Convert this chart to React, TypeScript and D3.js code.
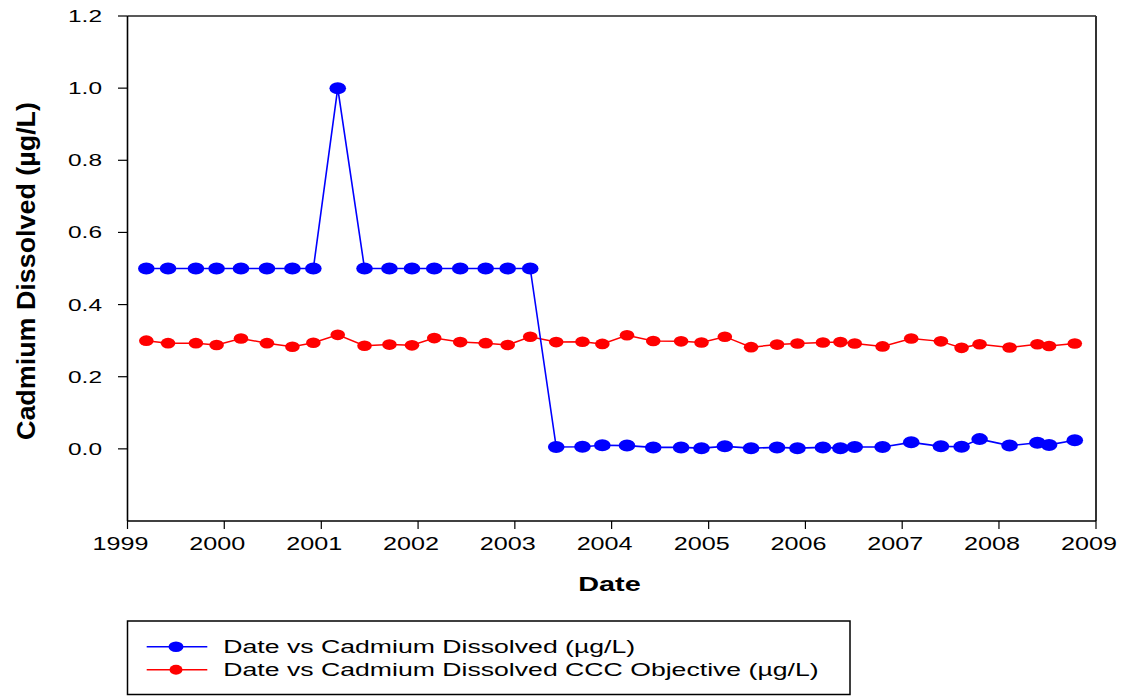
import React from "react";
import * as d3 from "d3";

const sampleDates = [
  "1999-03-13", "1999-06-03", "1999-09-16", "1999-12-03",
  "2000-03-04", "2000-06-10", "2000-09-14", "2000-12-02",
  "2001-03-04", "2001-06-13", "2001-09-15", "2001-12-09",
  "2002-03-03", "2002-06-09", "2002-09-13", "2002-12-05",
  "2003-02-28", "2003-06-06", "2003-09-13", "2003-11-27",
  "2004-02-28", "2004-06-06", "2004-09-19", "2004-12-05",
  "2005-03-03", "2005-06-10", "2005-09-16", "2005-12-02",
  "2006-03-08", "2006-05-13", "2006-07-06", "2006-10-19",
  "2007-02-04", "2007-05-27", "2007-08-13", "2007-10-20",
  "2008-02-10", "2008-05-25", "2008-07-08", "2008-10-13",
];

const cadmiumDissolved = [
  0.5, 0.5, 0.5, 0.5, 0.5, 0.5, 0.5, 0.5,
  1.0,
  0.5, 0.5, 0.5, 0.5, 0.5, 0.5, 0.5, 0.5,
  0.005, 0.006, 0.010, 0.009, 0.004, 0.004, 0.002, 0.007,
  0.002, 0.004, 0.002, 0.004, 0.002, 0.005, 0.005, 0.018,
  0.007, 0.006, 0.027, 0.009, 0.017, 0.011, 0.024,
];

const cccObjective = [
  0.300, 0.293, 0.293, 0.288, 0.306, 0.293, 0.283, 0.294,
  0.316, 0.286, 0.289, 0.287, 0.307, 0.296, 0.293, 0.288,
  0.311, 0.296, 0.297, 0.291, 0.315, 0.299, 0.298, 0.295,
  0.311, 0.282, 0.289, 0.292, 0.295, 0.296, 0.292, 0.284,
  0.306, 0.298, 0.280, 0.290, 0.281, 0.290, 0.285, 0.292,
];

const yTickValues = [0.0, 0.2, 0.4, 0.6, 0.8, 1.0, 1.2];
const xTickYears = [1999, 2000, 2001, 2002, 2003, 2004, 2005, 2006, 2007, 2008, 2009];

const legendLabels = [
  "Date vs Cadmium Dissolved (\u00b5g/L)",
  "Date vs Cadmium Dissolved CCC Objective (\u00b5g/L)",
];

const W = 1125;
const H = 696;
const M = { left: 127.5, right: 1096, top: 16, bottom: 521 };
const FONT = "'Liberation Sans', Arial, Helvetica, sans-serif";
const SX = 1.44;

const parse = d3.timeParse("%Y-%m-%d");

export default function App() {
  const dates = sampleDates.map((s) => parse(s) as Date);
  const x = d3
    .scaleTime()
    .domain([new Date(1999, 0, 1), new Date(2009, 0, 1)])
    .range([M.left, M.right]);
  const y = d3.scaleLinear().domain([-0.2, 1.2]).range([M.bottom, M.top]);

  const blue = dates.map((d, i) => ({ d, v: cadmiumDissolved[i] }));
  const red = dates.map((d, i) => ({ d, v: cccObjective[i] }));
  const line = d3
    .line<{ d: Date; v: number }>()
    .x((p) => x(p.d))
    .y((p) => y(p.v));

  const sText = (
    tx: number,
    ty: number,
    content: string,
    opts: { size: number; anchor?: string; bold?: boolean; sx?: number; key?: string }
  ) => (
    <text
      key={opts.key}
      transform={`translate(${tx},${ty}) scale(${opts.sx ?? SX},1)`}
      textAnchor={opts.anchor ?? "start"}
      fontSize={opts.size}
      fontWeight={opts.bold ? "bold" : "normal"}
      fontFamily={FONT}
      fill="#000"
    >
      {content}
    </text>
  );

  return (
    <div style={{ position: "absolute", left: 0, top: 0 }}>
      <svg width={W} height={H} style={{ display: "block", background: "#fff" }}>
        {/* frame */}
        <line x1={M.left} x2={M.right} y1={M.top} y2={M.top} stroke="#222" strokeWidth={1.5} />
        <line x1={M.right} x2={M.right} y1={M.top} y2={M.bottom} stroke="#333" strokeWidth={2} />
        <line x1={M.left} x2={M.left} y1={M.top} y2={M.bottom} stroke="#000" strokeWidth={1.6} />
        <line x1={M.left} x2={M.right} y1={M.bottom} y2={M.bottom} stroke="#000" strokeWidth={1.6} />

        {/* y ticks */}
        {yTickValues.map((v) => (
          <g key={`y${v}`}>
            <line x1={M.left - 9.5} x2={M.left} y1={y(v)} y2={y(v)} stroke="#000" strokeWidth={1.2} />
            {sText(102, y(v) + 6, v.toFixed(1), { size: 17, anchor: "end" })}
          </g>
        ))}

        {/* x ticks */}
        {xTickYears.map((yr) => {
          const px = x(new Date(yr, 0, 1));
          return (
            <g key={`x${yr}`}>
              <line x1={px} x2={px} y1={M.bottom} y2={M.bottom + 8} stroke="#000" strokeWidth={1.2} />
              {sText(px - 7, 549.5, String(yr), { size: 18.5, anchor: "middle", sx: 1.36 })}
            </g>
          );
        })}

        {/* axis titles */}
        {sText(609.5, 590.5, "Date", { size: 19.5, anchor: "middle", bold: true, sx: 1.48 })}
        <text
          transform={`translate(35,271) rotate(-90)`}
          textAnchor="middle"
          fontSize={25}
          fontWeight="bold"
          fontFamily={FONT}
          textLength={338}
          lengthAdjust="spacingAndGlyphs"
          fill="#000"
        >
          Cadmium Dissolved (µg/L)
        </text>

        {/* series: red */}
        <path d={line(red) || ""} fill="none" stroke="#ff0000" strokeWidth={1.5} />
        {red.map((p, i) => (
          <ellipse key={`r${i}`} cx={x(p.d)} cy={y(p.v)} rx={7.3} ry={5.3} fill="#ff0000" />
        ))}

        {/* series: blue */}
        <path d={line(blue) || ""} fill="none" stroke="#0000ff" strokeWidth={1.6} />
        {blue.map((p, i) => (
          <ellipse key={`b${i}`} cx={x(p.d)} cy={y(p.v)} rx={8.3} ry={6} fill="#0000ff" />
        ))}

        {/* legend */}
        <rect x={127.5} y={621} width={722.5} height={73.5} fill="#fff" stroke="#000" strokeWidth={1.5} />
        {[
          { color: "#0000ff", yy: 646.7, rx: 7.5, ry: 5.2 },
          { color: "#ff0000", yy: 669.8, rx: 6.5, ry: 5 },
        ].map((it, i) => (
          <g key={`lg${i}`}>
            <line x1={146.7} x2={207.3} y1={it.yy} y2={it.yy} stroke={it.color} strokeWidth={1.5} />
            <ellipse cx={176} cy={it.yy} rx={it.rx} ry={it.ry} fill={it.color} />
            {sText(223.3, it.yy + 6, legendLabels[i], { size: 18.5 })}
          </g>
        ))}
      </svg>
    </div>
  );
}
